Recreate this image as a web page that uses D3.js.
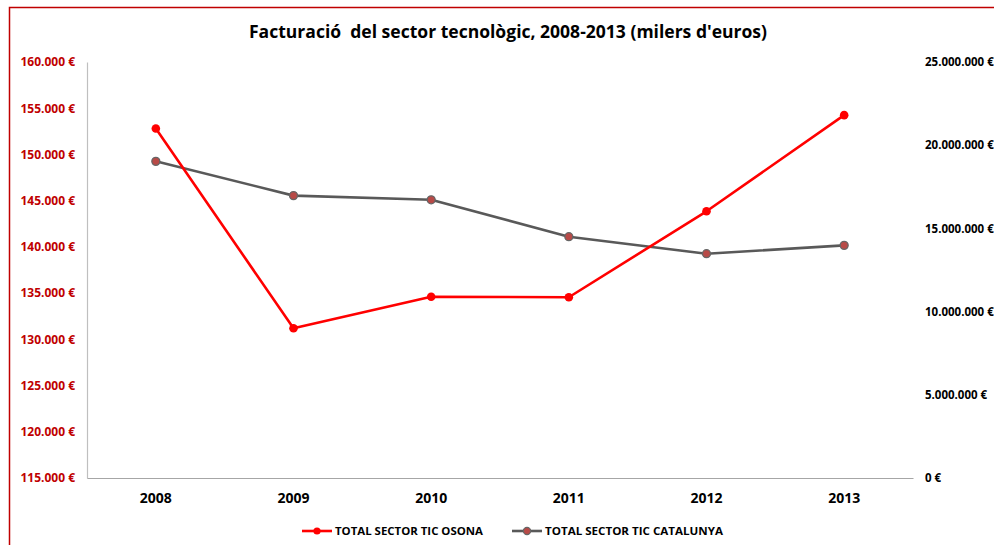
<!DOCTYPE html>
<html>
<head>
<meta charset="utf-8">
<script src="https://cdn.jsdelivr.net/npm/d3@7"></script>
<style>
  html, body { margin: 0; padding: 0; background: #fff; }
  svg { display: block; }
  text { font-family: "Open Sans", "Liberation Sans", sans-serif; }
</style>
</head>
<body>
<svg id="chart" width="994" height="545"></svg>
<script>
// Annual turnover of the ICT sector (thousands of euros)
const years = ["2008", "2009", "2010", "2011", "2012", "2013"];
const osona = [152800, 131200, 134600, 134550, 143850, 154250];
const catalunya = [19030000, 16970000, 16720000, 14500000, 13480000, 13980000];
const leftTicks = [115000, 120000, 125000, 130000, 135000, 140000, 145000, 150000, 155000, 160000];
const rightTicks = [0, 5000000, 10000000, 15000000, 20000000, 25000000];
const titleText = "Facturació  del sector tecnològic, 2008-2013 (milers d'euros)";
const seriesNames = ["TOTAL SECTOR TIC OSONA", "TOTAL SECTOR TIC CATALUNYA"];

const svg = d3.select("#chart");
const W = 994, H = 545;
const plot = { left: 87, right: 913, top: 62, bottom: 478 };

// Frame around the whole chart
svg.append("rect")
  .attr("x", 9.5).attr("y", 7.5)
  .attr("width", W + 20).attr("height", H + 20)
  .attr("fill", "none").attr("stroke", "#c00000").attr("stroke-width", 1.5);

// Thousands separator as dot, euro suffix
const fmt = d3.formatLocale({ decimal: ",", thousands: ".", grouping: [3], currency: ["", " €"] }).format(",.0f");
const euro = v => fmt(v) + " €";

const x = d3.scaleBand().domain(years).range([plot.left, plot.right]);
const yL = d3.scaleLinear().domain([115000, 160000]).range([plot.bottom, plot.top]);
const yR = d3.scaleLinear().domain([0, 25000000]).range([plot.bottom, plot.top]);

// Title
svg.append("text")
  .attr("x", 508).attr("y", 38)
  .attr("text-anchor", "middle")
  .attr("font-size", 17).attr("font-weight", "bold").attr("fill", "#000")
  .attr("textLength", 518).attr("lengthAdjust", "spacingAndGlyphs")
  .style("white-space", "pre")
  .text(titleText);

// Left axis (red labels)
const gL = svg.append("g").attr("transform", `translate(${plot.left},0)`)
  .call(d3.axisLeft(yL).tickValues(leftTicks).tickFormat(euro).tickSize(0).tickPadding(12));
gL.select(".domain").attr("stroke", "#bfbfbf").attr("stroke-width", 1.2);
gL.selectAll("text").attr("fill", "#c00000").attr("font-size", 12).attr("font-weight", "bold")
  .attr("font-family", "'Open Sans', sans-serif");

// Right axis (black labels, no axis line)
const gR = svg.append("g").attr("transform", `translate(${plot.right},0)`)
  .call(d3.axisRight(yR).tickValues(rightTicks).tickFormat(euro).tickSize(0).tickPadding(12));
gR.select(".domain").remove();
gR.selectAll("text").attr("fill", "#000").attr("font-size", 11.5).attr("font-weight", "bold")
  .attr("font-family", "'Open Sans', sans-serif");

// Category axis
const gX = svg.append("g").attr("transform", `translate(0,${plot.bottom})`)
  .call(d3.axisBottom(x).tickSize(0).tickPadding(15));
gX.select(".domain").attr("stroke", "#a6a6a6").attr("stroke-width", 1.2);
gX.selectAll("text").attr("fill", "#000").attr("font-size", 14).attr("font-weight", "bold")
  .attr("font-family", "'Open Sans', sans-serif");

const cx = (d, i) => x(years[i]) + x.bandwidth() / 2;

// Catalunya series (right axis)
svg.append("path")
  .datum(catalunya)
  .attr("fill", "none").attr("stroke", "#595959").attr("stroke-width", 2.6)
  .attr("stroke-linejoin", "round")
  .attr("d", d3.line().x(cx).y(d => yR(d)));
svg.append("g").selectAll("circle").data(catalunya).join("circle")
  .attr("cx", cx).attr("cy", d => yR(d)).attr("r", 4)
  .attr("fill", "#b84a47").attr("stroke", "#666").attr("stroke-width", 1.3);

// Osona series (left axis)
svg.append("path")
  .datum(osona)
  .attr("fill", "none").attr("stroke", "#ff0000").attr("stroke-width", 2.6)
  .attr("stroke-linejoin", "round")
  .attr("d", d3.line().x(cx).y(d => yL(d)));
svg.append("g").selectAll("circle").data(osona).join("circle")
  .attr("cx", cx).attr("cy", d => yL(d)).attr("r", 4.3)
  .attr("fill", "#ff0000");

// Legend
const legend = [
  { name: seriesNames[0], x: 302, stroke: "#ff0000", fill: "#ff0000", mstroke: "none", tl: 148 },
  { name: seriesNames[1], x: 512, stroke: "#595959", fill: "#b84a47", mstroke: "#666", tl: 178 }
];
const lg = svg.append("g").selectAll("g").data(legend).join("g")
  .attr("transform", d => `translate(${d.x},531)`);
lg.append("line").attr("x1", 0).attr("x2", 30).attr("y1", 0).attr("y2", 0)
  .attr("stroke", d => d.stroke).attr("stroke-width", 2.6);
lg.append("circle").attr("cx", 15).attr("cy", 0).attr("r", 3.6)
  .attr("fill", d => d.fill).attr("stroke", d => d.mstroke).attr("stroke-width", 1.2);
lg.append("text").attr("x", 33).attr("y", 4)
  .attr("font-size", 10).attr("font-weight", "bold").attr("fill", "#000")
  .attr("textLength", d => d.tl).attr("lengthAdjust", "spacingAndGlyphs")
  .text(d => d.name);
</script>
</body>
</html>
